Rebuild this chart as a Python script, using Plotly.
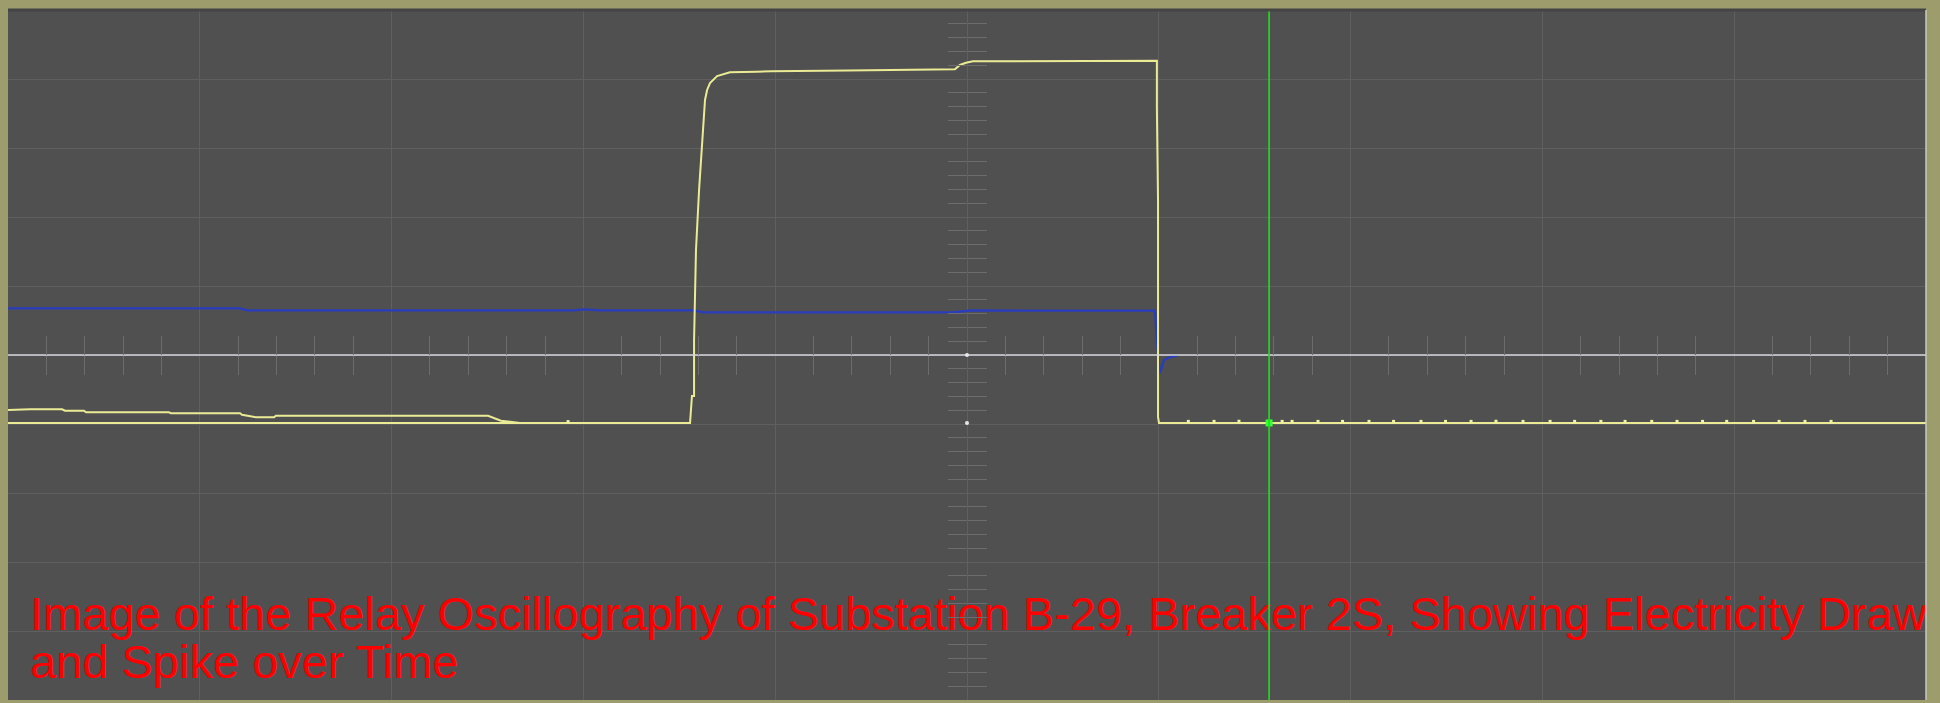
import numpy as np
import plotly.graph_objects as go

# ---------------- data (x: time in screen divisions 0..10, y: amplitude in divisions -5..5) ----------------
# main yellow channel (current): zero before fault, spike, then back to zero
YEL_X = [0.0, 3.556, 3.566, 3.577, 3.577, 3.587, 3.603, 3.613, 3.624, 3.634, 3.645, 3.660, 3.697,
         3.764, 3.905, 3.978, 4.380, 4.515, 4.937, 4.963, 4.995, 5.031, 5.990, 5.990, 5.996,
         5.996, 6.001, 10.0]
YEL_Y = [-0.985, -0.985, -0.594, -0.594, 0.217, 1.522, 2.391, 2.826, 3.333, 3.696, 3.841, 3.942, 4.043,
         4.097, 4.106, 4.113, 4.123, 4.130, 4.141, 4.203, 4.236, 4.257, 4.265, 3.580, 2.246,
         -0.899, -0.985, -0.985]

# second yellow channel (pre-fault load draw decaying to zero)
PRE_X = [0.0, 0.115, 0.282, 0.297, 0.396, 0.407, 0.839, 0.850, 1.210, 1.220, 1.293, 1.387, 1.397,
         2.503, 2.570, 2.643, 2.670]
PRE_Y = [-0.797, -0.787, -0.787, -0.807, -0.807, -0.830, -0.830, -0.845, -0.845, -0.865, -0.903,
         -0.903, -0.880, -0.880, -0.952, -0.981, -0.985]

# blue channel (voltage level)
BLUE_X = [0.0, 0.167, 0.198, 0.271, 1.210, 1.246, 2.951, 3.003, 3.040, 3.087, 3.577, 3.624, 4.922,
          5.021, 5.980, 5.990, 6.006, 6.016, 6.027, 6.058, 6.100]
BLUE_Y = [0.677, 0.677, 0.686, 0.677, 0.677, 0.648, 0.648, 0.662, 0.658, 0.648, 0.648, 0.619, 0.619,
          0.645, 0.642, 0.217, -0.261, -0.170, -0.072, -0.029, -0.007]

# white reference channel
REF_X = [0.0, 10.0]
REF_Y = [0.0, 0.0]

# small noise samples on the yellow baseline
NOISE_X = [2.92, 6.154, 6.288, 6.418, 6.643, 6.695, 6.830, 6.958, 7.096, 7.224, 7.367, 7.495, 7.628,
           7.758, 7.899, 8.040, 8.168, 8.305, 8.431, 8.570, 8.702, 8.835, 8.961, 9.101, 9.234,
           9.369, 9.505]
NOISE_Y = [-0.965, -0.962, -0.962, -0.960, -0.962, -0.962, -0.962, -0.962, -0.962, -0.962, -0.962,
           -0.962, -0.962, -0.960, -0.962, -0.962, -0.962, -0.962, -0.962, -0.962, -0.962, -0.962,
           -0.962, -0.962, -0.962, -0.962, -0.962]

# cursor
CURSOR_X = 6.575
CURSOR_Y = -0.985

# centre markers
CENTER_X = [5.0, 5.0]
CENTER_Y = [0.0, -0.985]

CAPTION = ["Image of the Relay Oscillography of Substation B-29, Breaker 2S, Showing Electricity Draw",
           "and Spike over Time"]
CAPTION_X = [0.115, 0.115]
CAPTION_Y = [-3.815, -4.515]

X_RANGE = [0, 10]
Y_RANGE = [-5, 5]

# ---------------- style ----------------
BG = "#505050"
BORDER = "#9c9c6c"
GRID = "#5f5f5f"
TICK = "#6c6c6c"
YELLOW = "#ebeb96"
BLUE = "#2a3cbe"
WHITE = "#d7d7e1"
GREEN = "#1ee01e"

minor_x = [round(v, 1) for v in np.arange(0.2, 10.0, 0.2) if abs(v - round(v)) > 1e-6]
minor_y = [round(v, 1) for v in np.arange(-4.8, 5.0, 0.2) if abs(v - round(v)) > 1e-6]

fig = go.Figure()

fig.add_trace(go.Scatter(x=CAPTION_X, y=CAPTION_Y, text=CAPTION, mode="text",
                         textposition="middle right", cliponaxis=True,
                         textfont=dict(family="Liberation Sans, Arial", size=47, color="#ff0000"),
                         hoverinfo="skip", showlegend=False))
fig.add_trace(go.Scatter(x=PRE_X, y=PRE_Y, mode="lines", line=dict(color=YELLOW, width=2),
                         showlegend=False))
fig.add_trace(go.Scatter(x=BLUE_X, y=BLUE_Y, mode="lines", line=dict(color=BLUE, width=2.3),
                         showlegend=False))
fig.add_trace(go.Scatter(x=YEL_X, y=YEL_Y, mode="lines", line=dict(color=YELLOW, width=2),
                         showlegend=False))
# overlay subplots (carry the centre tick axes)
fig.add_trace(go.Scatter(x=REF_X, y=REF_Y, mode="lines", line=dict(color=WHITE, width=1.5),
                         xaxis="x2", yaxis="y", showlegend=False))
fig.add_trace(go.Scatter(x=CENTER_X, y=CENTER_Y, mode="markers",
                         marker=dict(color="#e8e8e8", size=4, symbol="circle"),
                         xaxis="x3", yaxis="y", showlegend=False))
fig.add_trace(go.Scatter(x=NOISE_X, y=NOISE_Y, mode="markers",
                         marker=dict(color="#f2f2a6", size=3, symbol="square"),
                         xaxis="x", yaxis="y2", showlegend=False))
fig.add_trace(go.Scatter(x=[CURSOR_X], y=[CURSOR_Y], mode="markers",
                         marker=dict(color="#33ff33", size=7, symbol="square"),
                         xaxis="x", yaxis="y3", showlegend=False))

fig.add_vline(x=CURSOR_X, line=dict(color=GREEN, width=1.6))

common = dict(showticklabels=False, zeroline=False, showline=False, fixedrange=True)
tick_common = dict(showgrid=False, ticklen=19, tickcolor=TICK, tickwidth=1, **common)

fig.update_layout(
    width=1940, height=703,
    margin=dict(l=8, r=14, t=10, b=3, pad=0),
    paper_bgcolor=BORDER, plot_bgcolor=BG,
    showlegend=False,
    xaxis=dict(range=X_RANGE, dtick=1, tick0=0, showgrid=True, gridcolor=GRID, gridwidth=1,
               ticks="", **common),
    yaxis=dict(range=Y_RANGE, dtick=1, tick0=0, showgrid=True, gridcolor=GRID, gridwidth=1,
               ticks="", **common),
    xaxis2=dict(overlaying="x", anchor="free", position=0.5, range=X_RANGE,
                tickmode="array", tickvals=minor_x, ticks="outside", **tick_common),
    xaxis3=dict(overlaying="x", anchor="free", position=0.5, range=X_RANGE,
                tickmode="array", tickvals=minor_x, ticks="inside", **tick_common),
    yaxis2=dict(overlaying="y", anchor="free", position=0.5, range=Y_RANGE,
                tickmode="array", tickvals=minor_y, ticks="outside", **tick_common),
    yaxis3=dict(overlaying="y", anchor="free", position=0.5, range=Y_RANGE,
                tickmode="array", tickvals=minor_y, ticks="inside", **tick_common),
    shapes=[
        dict(type="line", xref="paper", yref="paper", x0=0, x1=0, y0=0, y1=1,
             line=dict(color="#3e3e3a", width=3)),
        dict(type="line", xref="paper", yref="paper", x0=0, x1=1, y0=1, y1=1,
             line=dict(color="#444444", width=3)),
        dict(type="line", xref="paper", yref="paper", x0=1, x1=1, y0=0, y1=1,
             line=dict(color="#c8c8c0", width=1.5)),
    ],
)

fig.write_html(
    "out.html",
    config={"displayModeBar": False},
    post_script="document.body.style.margin='0';document.body.style.padding='0';"
                "document.body.style.overflow='hidden';"
                "document.body.style.background='" + BORDER + "';",
)
